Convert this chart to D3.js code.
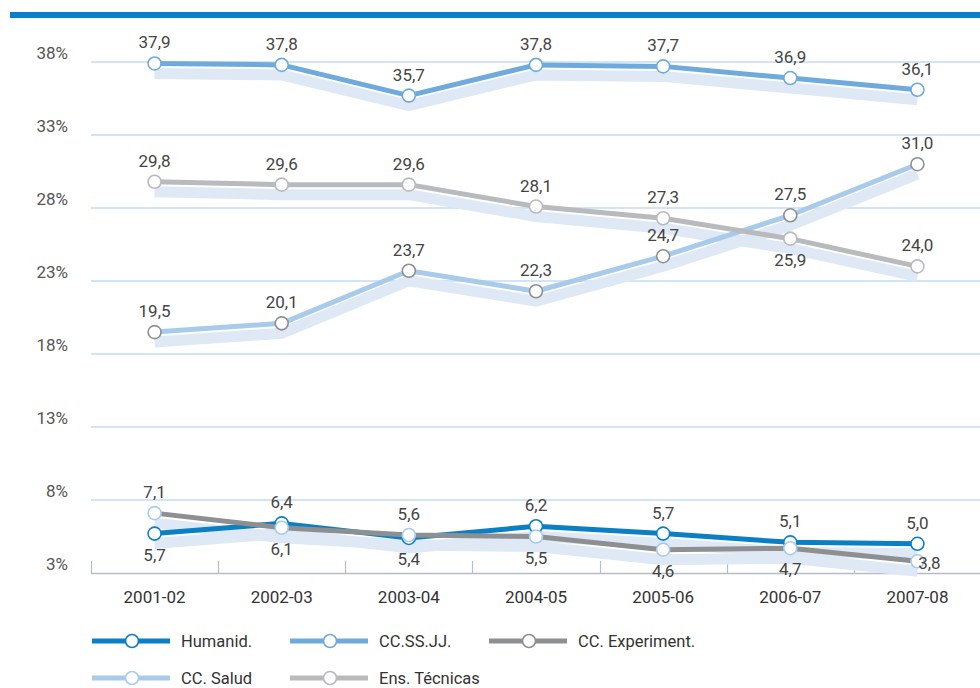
<!DOCTYPE html>
<html>
<head>
<meta charset="utf-8">
<script src="https://cdn.jsdelivr.net/npm/d3@7/dist/d3.min.js"></script>
<style>
html,body{margin:0;padding:0;background:#fff;}
svg{display:block;font-family:Roboto,"Noto Sans",sans-serif;}
</style>
</head>
<body>
<svg id="chart" width="980" height="688"></svg>
<script>
const categories = ["2001-02","2002-03","2003-04","2004-05","2005-06","2006-07","2007-08"];
const yTicks = [3,8,13,18,23,28,33,38];
const seriesNames = ["Humanid.","CC.SS.JJ.","CC. Experiment.","CC. Salud","Ens. Técnicas"];
const humanid     = [5.7, 6.4, 5.4, 6.2, 5.7, 5.1, 5.0];
const ccssjj      = [37.9, 37.8, 35.7, 37.8, 37.7, 36.9, 36.1];
const ccexperim   = [7.1, 6.1, 5.6, 5.5, 4.6, 4.7, 3.8];
const ccsalud     = [19.5, 20.1, 23.7, 22.3, 24.7, 27.5, 31.0];
const enstecnicas = [29.8, 29.6, 29.6, 28.1, 27.3, 25.9, 24.0];
// label placement: a = above, b = below, r = right
const humanidLbl   = ["b","a","b","a","a","a","a"];
const ccssjjLbl    = ["a","a","a","a","a","a","a"];
const ccexpLbl     = ["a","b","a","b","b","b","r"];
const ccsaludLbl   = ["a","a","a","a","a","a","a"];
const enstecLbl    = ["a","a","a","a","a","b","a"];

const C = {
  dark:"#0a7fc4", mid:"#6eaadb", gray:"#8e8f91", light:"#a8cbeb", lgray:"#b9babd",
  shadow:"#dfe9f5", grid:"#a8cbeb", axis:"#b3bcc7"
};
const series = [
  {name:seriesNames[0], values:humanid,     lbl:humanidLbl, line:C.dark,  mark:C.dark,  legMark:C.dark},
  {name:seriesNames[1], values:ccssjj,      lbl:ccssjjLbl,  line:C.mid,   mark:C.mid,   legMark:C.mid},
  {name:seriesNames[2], values:ccexperim,   lbl:ccexpLbl,   line:C.gray,  mark:C.light, legMark:C.gray},
  {name:seriesNames[3], values:ccsalud,     lbl:ccsaludLbl, line:C.light, mark:C.gray,  legMark:C.light},
  {name:seriesNames[4], values:enstecnicas, lbl:enstecLbl,  line:C.lgray, mark:C.lgray, legMark:C.lgray}
];

const svg = d3.select("#chart");
const x = d3.scaleBand().domain(categories).range([91, 981]).padding(0);
const y = d3.scaleLinear().domain([3, 38]).range([573, 62]);
const cx = d => x(d) + x.bandwidth()/2;
const fmt = v => d3.format(".1f")(v).replace(".", ",");

// top bar
svg.append("rect").attr("x",10).attr("y",12).attr("width",970).attr("height",6).attr("fill","#0a80c8");

// gridlines
svg.append("g").selectAll("line").data(yTicks.filter(t => t > 3)).join("line")
  .attr("x1",91).attr("x2",980).attr("y1",d=>y(d)).attr("y2",d=>y(d))
  .attr("stroke",C.grid).attr("stroke-width",1.2);

// y labels
svg.append("g").selectAll("text").data(yTicks).join("text")
  .attr("x",68).attr("y",d=>y(d)-9).attr("text-anchor","end").attr("dominant-baseline","central")
  .attr("font-size",17).attr("fill","#555").text(d=>d+"%");

// x axis
const xa = svg.append("g");
xa.append("line").attr("x1",91).attr("x2",980).attr("y1",573.5).attr("y2",573.5).attr("stroke",C.axis).attr("stroke-width",1.5);
const bounds = categories.map(c => x(c)).concat([x(categories[categories.length-1]) + x.bandwidth()]);
xa.selectAll("line.tk").data(bounds).join("line").attr("class","tk")
  .attr("x1",d=>Math.round(d)+0.5).attr("x2",d=>Math.round(d)+0.5).attr("y1",561).attr("y2",574)
  .attr("stroke",C.axis).attr("stroke-width",1.2);
xa.selectAll("text").data(categories).join("text")
  .attr("x",d=>cx(d)).attr("y",597).attr("text-anchor","middle").attr("dominant-baseline","central")
  .attr("font-size",17).attr("fill","#333").text(d=>d);

const line = d3.line().x((v,i)=>cx(categories[i])).y(v=>y(v));
const shadowLine = d3.line().x((v,i)=>cx(categories[i])).y(v=>y(v)+10);

// shadows
svg.append("g").selectAll("path").data(series).join("path")
  .attr("d",s=>shadowLine(s.values)).attr("fill","none")
  .attr("stroke",C.shadow).attr("stroke-width",11).attr("stroke-linejoin","miter");

// lines & markers
series.forEach(s => {
  const g = svg.append("g");
  g.append("path").attr("d",line(s.values)).attr("fill","none")
    .attr("stroke",s.line).attr("stroke-width",5).attr("stroke-linejoin","round");
  g.selectAll("circle").data(s.values).join("circle")
    .attr("cx",(v,i)=>cx(categories[i])).attr("cy",v=>y(v)).attr("r",6.5)
    .attr("fill","#fff").attr("stroke",s.mark).attr("stroke-width",1.6);
});

// labels
series.forEach(s => {
  svg.append("g").selectAll("text").data(s.values).join("text")
    .attr("x",(v,i)=> cx(categories[i]) + (s.lbl[i]==="r" ? 12 : 0))
    .attr("y",(v,i)=> y(v) + (s.lbl[i]==="a" ? -21 : s.lbl[i]==="b" ? 21 : 2))
    .attr("text-anchor","middle")
    .attr("dominant-baseline","central")
    .attr("font-size",17).attr("fill","#444").text(v=>fmt(v));
});

// legend
const legPos = [[92,641],[290,641],[489,641],[92,678],[290,678]];
series.forEach((s,i) => {
  const [lx,ly] = legPos[i];
  const g = svg.append("g");
  g.append("line").attr("x1",lx).attr("x2",lx+78).attr("y1",ly).attr("y2",ly)
    .attr("stroke",s.line).attr("stroke-width",5);
  g.append("circle").attr("cx",lx+40).attr("cy",ly).attr("r",6.5)
    .attr("fill","#fff").attr("stroke",s.legMark).attr("stroke-width",1.6);
  g.append("text").attr("x",lx+89).attr("y",ly).attr("dominant-baseline","central")
    .attr("font-size",16.5).attr("fill","#333").text(s.name);
});
</script>
</body>
</html>
